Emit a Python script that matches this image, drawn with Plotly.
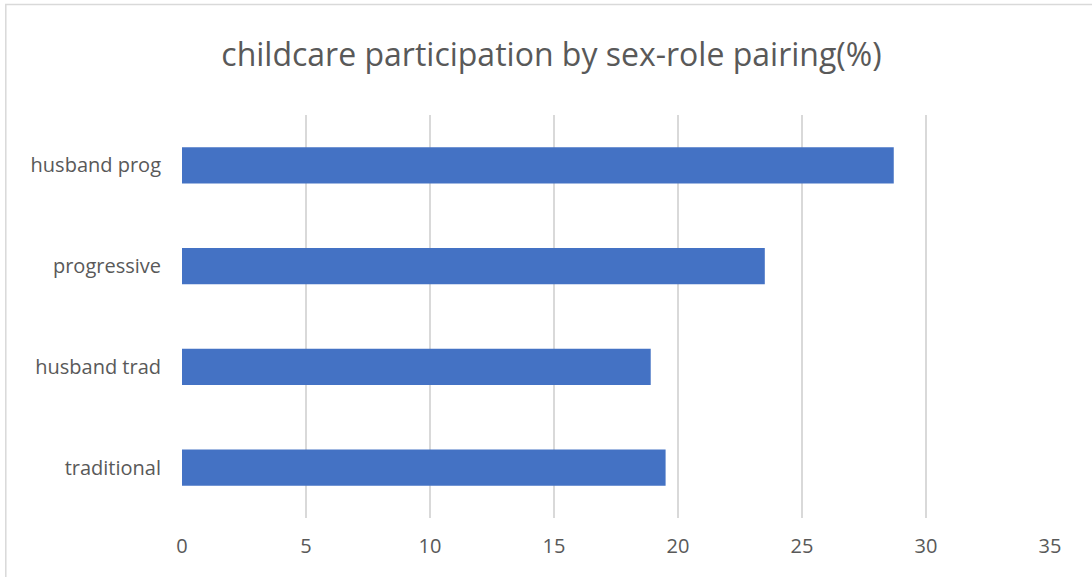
import plotly.graph_objects as go

categories = ["traditional", "husband trad", "progressive", "husband prog"]
participation = [19.5, 18.9, 23.5, 28.7]
x_ticks = [0, 5, 10, 15, 20, 25, 30, 35]

fig = go.Figure(
    go.Bar(
        x=participation,
        y=categories,
        orientation="h",
        marker=dict(color="#4472C4", line=dict(width=0)),
        hoverinfo="x+y",
    )
)

fig.update_layout(
    width=1092,
    height=577,
    margin=dict(l=182, r=42, t=115, b=59),
    paper_bgcolor="white",
    plot_bgcolor="white",
    bargap=0.64,
    showlegend=False,
    title=dict(
        text="childcare participation by sex-role pairing(%)",
        x=0.505,
        xanchor="center",
        y=0.905,
        yanchor="middle",
        font=dict(family="Open Sans", size=32, color="#595959"),
    ),
    xaxis=dict(
        range=[0, 35],
        tickvals=x_ticks,
        showgrid=True,
        gridcolor="#D9D9D9",
        gridwidth=1.5,
        zeroline=False,
        showline=False,
        ticks="",
        tickfont=dict(family="Open Sans", size=20, color="#595959"),
        ticklabelstandoff=14,
        fixedrange=True,
    ),
    yaxis=dict(
        showgrid=False,
        zeroline=False,
        showline=False,
        ticks="",
        ticklabelstandoff=20,
        tickfont=dict(family="Open Sans", size=20, color="#595959"),
        fixedrange=True,
    ),
    shapes=[
        dict(
            type="rect",
            xref="paper",
            yref="paper",
            x0=-0.203,
            x1=1.1,
            y0=-0.3,
            y1=1.274,
            line=dict(color="#D9D9D9", width=1.5),
            layer="below",
        )
    ],
)

fig.write_html("out.html")
